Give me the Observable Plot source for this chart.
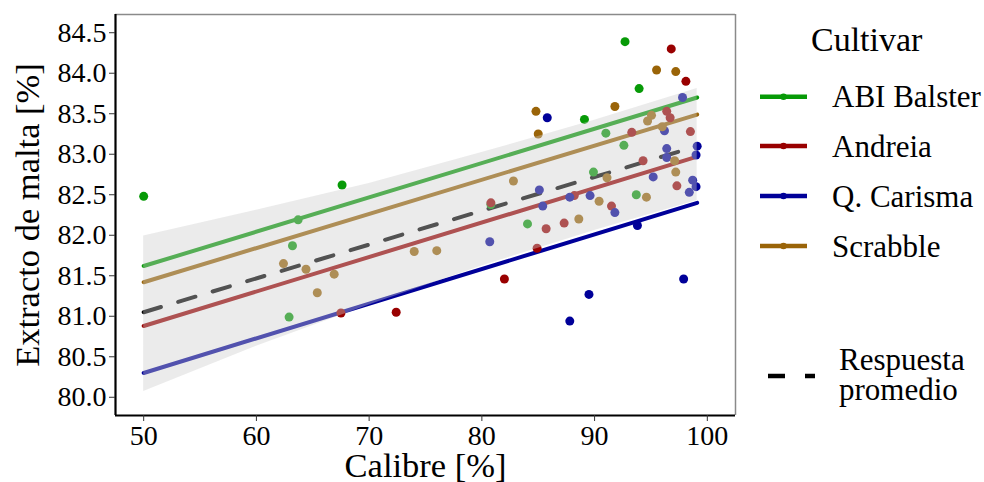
<!DOCTYPE html>
<html>
<head>
<meta charset="utf-8">
<script src="https://cdn.jsdelivr.net/npm/d3@7"></script>
<script src="https://cdn.jsdelivr.net/npm/@observablehq/plot@0.6"></script>
<style>
  html, body { margin: 0; padding: 0; background: #fff; }
  #chart { width: 984px; height: 482px; }
  #chart svg, #chart svg text { font-family: 'Liberation Serif', 'Times New Roman', 'DejaVu Serif', serif !important; }
</style>
</head>
<body>
<div id="chart"></div>
<script>
// ---- Data ----
const cultivars = ["ABI Balster", "Andreia", "Q. Carisma", "Scrabble"];
const colors = ["#079a07", "#990000", "#000099", "#9a6408"];

const balsterX = [50.0, 67.6, 63.7, 63.2, 62.9, 80.8, 84.05, 89.1, 89.9, 91.0, 92.6, 92.7, 93.7, 93.95];
const balsterY = [82.48, 82.62, 82.19, 81.87, 80.99, 82.38, 82.14, 83.43, 82.78, 83.26, 83.11, 84.39, 82.50, 83.81];

const andreiaX = [67.5, 72.4, 80.8, 82.0, 84.9, 85.7, 87.3, 88.2, 91.5, 93.3, 94.3, 96.4, 96.7, 96.8, 97.3, 98.1, 98.5];
const andreiaY = [81.04, 81.05, 82.40, 81.46, 81.84, 82.08, 82.15, 82.49, 82.36, 83.27, 82.92, 83.53, 83.45, 84.30, 82.61, 83.90, 83.28];

const carismaX = [80.7, 85.1, 85.4, 85.8, 87.8, 87.8, 89.5, 89.6, 91.8, 93.8, 95.2, 96.2, 96.4, 96.4, 97.8, 97.9, 98.4, 98.7, 99.0, 99.0, 99.1];
const carismaY = [81.92, 82.56, 82.36, 83.45, 80.94, 82.47, 81.27, 82.49, 82.28, 82.12, 82.72, 83.29, 83.07, 82.96, 83.70, 81.46, 82.53, 82.68, 82.60, 82.99, 83.10];

const scrabbleX = [62.4, 64.4, 65.4, 66.9, 74.0, 76.0, 82.8, 84.8, 85.0, 88.6, 90.4, 91.1, 91.8, 94.6, 94.7, 95.05, 95.5, 96.0, 97.1, 97.2, 97.2];
const scrabbleY = [81.65, 81.58, 81.29, 81.52, 81.80, 81.81, 82.67, 83.53, 83.25, 82.20, 82.42, 82.71, 83.59, 82.47, 83.41, 83.48, 84.04, 83.34, 82.92, 82.78, 84.02];

// fitted lines (value at start and end of the fitted range)
const fitX = [50, 99.1];
const fitStart = [81.62, 80.88, 80.30, 81.42];
const fitEnd = [83.70, 82.97, 82.40, 83.49];
const meanFit = [81.05, 83.10];

// confidence band of the average response
const bandX = [50, 60, 70, 80, 90, 99.1];
const bandLow = [80.07, 80.63, 81.14, 81.62, 82.06, 82.43];
const bandHigh = [81.99, 82.31, 82.64, 83.02, 83.42, 83.81];

const xTicks = [50, 60, 70, 80, 90, 100];
const yTicks = [80.0, 80.5, 81.0, 81.5, 82.0, 82.5, 83.0, 83.5, 84.0, 84.5];

const labels = {xTitle: "Calibre [%]", yTitle: "Extracto de malta [%]", legendTitle: "Cultivar", meanLabel: ["Respuesta", "promedio"]};

// ---- Build tables ----
const seriesX = [balsterX, andreiaX, carismaX, scrabbleX];
const seriesY = [balsterY, andreiaY, carismaY, scrabbleY];
const points = [];
cultivars.forEach((c, i) => seriesX[i].forEach((x, j) => points.push({cultivar: c, x, y: seriesY[i][j]})));
const fits = [];
cultivars.forEach((c, i) => {
  fits.push({cultivar: c, x: fitX[0], y: fitStart[i]});
  fits.push({cultivar: c, x: fitX[1], y: fitEnd[i]});
});
const meanRows = fitX.map((x, i) => ({x, y: meanFit[i]}));
const band = bandX.map((x, i) => ({x, lo: bandLow[i], hi: bandHigh[i]}));

const xDom = [47.5, 102.5];
const yDom = [79.775, 84.725];
const FONT = "'Liberation Serif', 'Times New Roman', serif";

const chart = Plot.plot({
  width: 984,
  height: 482,
  marginLeft: 115,
  marginRight: 249,
  marginTop: 14,
  marginBottom: 67,
  style: {fontFamily: FONT, background: "#fff", color: "#000"},
  x: {domain: xDom, label: null},
  y: {domain: yDom, label: null},
  color: {domain: cultivars, range: colors},
  marks: [
    Plot.line(fits, {x: "x", y: "y", z: "cultivar", stroke: "cultivar", strokeWidth: 4}),
    Plot.line(meanRows, {x: "x", y: "y", stroke: "#000", strokeWidth: 4, strokeDasharray: "18,18"}),
    Plot.dot(points, {x: "x", y: "y", fill: "cultivar", r: 4.5}),
    Plot.areaY(band, {x: "x", y1: "lo", y2: "hi", fill: "#cccccc", fillOpacity: 0.4}),
    Plot.ruleX([xDom[1]], {stroke: "#8a8a8a", strokeWidth: 1.5}),
    Plot.ruleY([yDom[1]], {stroke: "#8a8a8a", strokeWidth: 1.5}),
    Plot.ruleX([xDom[0]], {stroke: "#000", strokeWidth: 2.2}),
    Plot.ruleY([yDom[0]], {stroke: "#000", strokeWidth: 2.2}),
    Plot.axisX({ticks: xTicks, tickSize: 6, tickPadding: 4, fontSize: 28, label: null, stroke: "#333"}),
    Plot.axisY({ticks: yTicks, tickFormat: d3.format(".1f"), tickSize: 6, tickPadding: 3, fontSize: 28, label: null, stroke: "#333"}),
    Plot.text([labels.xTitle], {frameAnchor: "bottom", textAnchor: "middle", dy: 61, fontSize: 34.5, fill: "#000"}),
    Plot.text([labels.yTitle], {frameAnchor: "left", textAnchor: "middle", dx: -88, rotate: -90, fontSize: 34.5, fill: "#000"})
  ]
});
document.getElementById("chart").appendChild(chart);

// ---- Legend (right side) ----
const svg = d3.select(chart);
const lg = svg.append("g").attr("font-family", FONT).attr("fill", "#000").attr("text-anchor", "start");
lg.append("text").attr("x", 811).attr("y", 51).attr("font-size", 34).attr("text-anchor", "start").text(labels.legendTitle);
const keyY = [96.7, 146, 196, 246];
cultivars.forEach((c, i) => {
  lg.append("line").attr("x1", 760).attr("x2", 807).attr("y1", keyY[i]).attr("y2", keyY[i])
    .attr("stroke", colors[i]).attr("stroke-width", 4.5);
  lg.append("circle").attr("cx", 783.5).attr("cy", keyY[i]).attr("r", 3.3).attr("fill", colors[i]);
  lg.append("text").attr("x", 832).attr("y", keyY[i] + 10.5).attr("font-size", 31).attr("text-anchor", "start").text(c);
});
lg.append("line").attr("x1", 768).attr("x2", 815).attr("y1", 376).attr("y2", 376)
  .attr("stroke", "#000").attr("stroke-width", 4.5).attr("stroke-dasharray", "17,20");
lg.append("text").attr("x", 839).attr("y", 370).attr("font-size", 31).attr("text-anchor", "start").text(labels.meanLabel[0]);
lg.append("text").attr("x", 839).attr("y", 400).attr("font-size", 31).attr("text-anchor", "start").text(labels.meanLabel[1]);
</script>
</body>
</html>
